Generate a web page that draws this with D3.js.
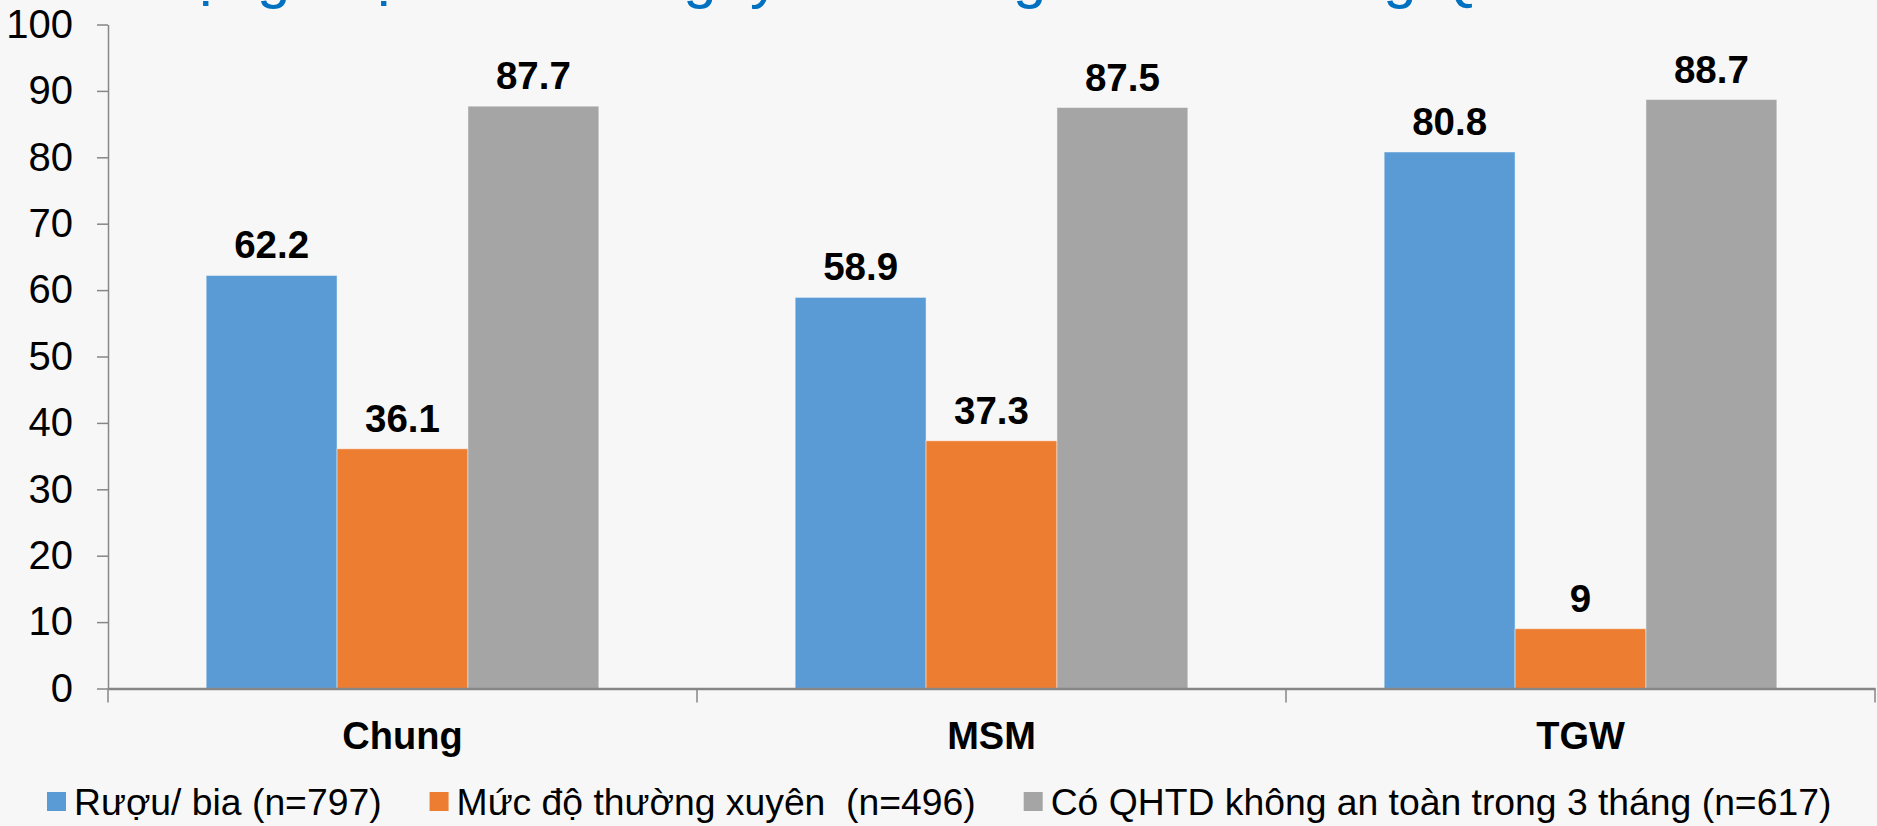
<!DOCTYPE html>
<html>
<head>
<meta charset="utf-8">
<script src="https://cdn.jsdelivr.net/npm/d3@7"></script>
<style>
  html, body { margin: 0; padding: 0; background: #F7F7F7; }
  svg { display: block; font-family: "Liberation Sans", Arial, sans-serif; }
  text { white-space: pre; }
</style>
</head>
<body>
<svg id="chart" width="1877" height="826"></svg>
<script>
// Groups along the x axis
const categories = ["Chung", "MSM", "TGW"];

// Series (legend order) and their values per group, in %
const seriesNames = [
  "Rượu/ bia (n=797)",
  "Mức độ thường xuyên  (n=496)",
  "Có QHTD không an toàn trong 3 tháng (n=617)"
];
const alcoholUse   = [62.2, 58.9, 80.8];
const frequentUse  = [36.1, 37.3, 9];
const unsafeSex3m  = [87.7, 87.5, 88.7];
const seriesValues = [alcoholUse, frequentUse, unsafeSex3m];
const seriesColors = ["#5B9BD5", "#ED7D31", "#A5A5A5"];

const yTicks = [0, 10, 20, 30, 40, 50, 60, 70, 80, 90, 100];
const titleText = "Sử dụng rượu/ bia và nguy cơ không an toàn trong QHTD";

const svg = d3.select("#chart");
const W = 1877, H = 826;
svg.append("rect").attr("width", W).attr("height", H).attr("fill", "#F7F7F7");

const plot = { left: 108, right: 1875, top: 24.5, bottom: 688.5 };

const x0 = d3.scaleBand().domain(categories).range([plot.left, plot.right]).padding(0);
const bw = x0.bandwidth();
const x1 = d3.scaleBand().domain(seriesNames).range([bw / 6, bw * 5 / 6]).padding(0);
const y = d3.scaleLinear().domain([0, 100]).range([plot.bottom, plot.top]);

// Title (runs off the top edge of the slide area)
svg.append("text")
  .attr("x", 60).attr("y", -3)
  .attr("fill", "#0070C0")
  .attr("font-size", 60)
  .text(titleText);

// Bars
const rows = categories.map((c, i) => ({
  cat: c,
  vals: seriesNames.map((s, j) => ({ s, j, v: seriesValues[j][i] }))
}));

const groups = svg.append("g").selectAll("g")
  .data(rows).join("g")
  .attr("transform", d => `translate(${x0(d.cat)},0)`);

groups.selectAll("rect")
  .data(d => d.vals).join("rect")
  .attr("x", d => x1(d.s))
  .attr("y", d => y(d.v))
  .attr("width", x1.bandwidth())
  .attr("height", d => y(0) - y(d.v))
  .attr("fill", d => seriesColors[d.j])
  .attr("stroke", "rgba(255,255,255,0.45)")
  .attr("stroke-width", 1);

// Value labels
groups.selectAll("text.val")
  .data(d => d.vals).join("text")
  .attr("class", "val")
  .attr("x", d => x1(d.s) + x1.bandwidth() / 2)
  .attr("y", d => y(d.v) - 17)
  .attr("text-anchor", "middle")
  .attr("font-size", 38.5)
  .attr("font-weight", "bold")
  .attr("fill", "#000")
  .text(d => d.v);

// Y axis
const yAxis = svg.append("g")
  .attr("transform", `translate(${plot.left},0)`)
  .call(d3.axisLeft(y).tickValues(yTicks).tickSize(11).tickPadding(24).tickSizeOuter(0));
yAxis.select(".domain").attr("stroke", "#868686").attr("stroke-width", 1.5);
yAxis.selectAll(".tick line").attr("stroke", "#868686").attr("stroke-width", 1.5);
yAxis.selectAll(".tick text")
  .attr("font-size", 40)
  .attr("font-family", "Liberation Sans, Arial, sans-serif")
  .attr("fill", "#000");

// X axis baseline with group separator ticks
const xAxis = svg.append("g")
  .attr("transform", `translate(0,${y(0)})`)
  .call(d3.axisBottom(x0).tickSize(0).tickFormat(""));
xAxis.select(".domain").attr("stroke", "#868686").attr("stroke-width", 2.5);
xAxis.selectAll(".tick").remove();

const sepPositions = categories.map(c => x0(c)).concat([x0(categories[categories.length - 1]) + bw]);
svg.append("g").selectAll("line")
  .data(sepPositions).join("line")
  .attr("x1", d => d).attr("x2", d => d)
  .attr("y1", y(0)).attr("y2", y(0) + 14)
  .attr("stroke", "#868686").attr("stroke-width", 1.5);

// Category labels
svg.append("g").selectAll("text")
  .data(categories).join("text")
  .attr("x", d => x0(d) + bw / 2)
  .attr("y", 749)
  .attr("text-anchor", "middle")
  .attr("font-size", 38)
  .attr("font-weight", "bold")
  .attr("fill", "#000")
  .text(d => d);

// Legend
const legend = svg.append("g");
let lx = 47;
seriesNames.forEach((name, j) => {
  legend.append("rect")
    .attr("x", lx).attr("y", 792)
    .attr("width", 19).attr("height", 19)
    .attr("fill", seriesColors[j]);
  const t = legend.append("text")
    .attr("x", lx + 27).attr("y", 815)
    .attr("font-size", 37.3)
    .attr("fill", "#000")
    .text(name);
  lx = lx + 27 + t.node().getComputedTextLength() + 48;
});
</script>
</body>
</html>
